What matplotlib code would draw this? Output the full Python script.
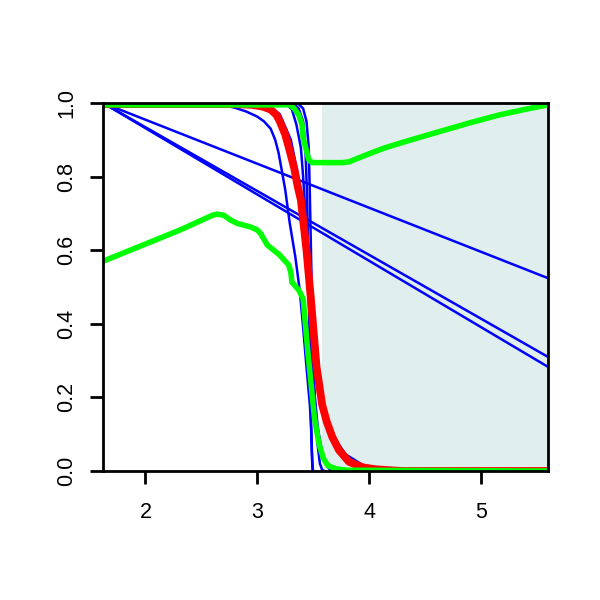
import matplotlib
matplotlib.use("Agg")
import matplotlib.pyplot as plt

# ---- data ----
xlim = (1.62, 5.60)
shade_x = (3.58, 5.60)
xticks = [2, 3, 4, 5]
yticks = [0.0, 0.2, 0.4, 0.6, 0.8, 1.0]
ytick_labels = ["0.0", "0.2", "0.4", "0.6", "0.8", "1.0"]

# straight blue lines
line1_x = [1.62, 5.60]; line1_y = [1.0, 0.524]
line2_x = [1.62, 5.60]; line2_y = [1.0, 0.310]
line3_x = [1.62, 5.60]; line3_y = [1.0, 0.283]

# broad blue curve
blue_broad_x = [1.62, 2.50, 2.60, 2.70, 2.80, 2.90, 3.00, 3.06, 3.12, 3.16, 3.19, 3.22, 3.25, 3.29, 3.34, 3.38,
                3.41, 3.44, 3.47, 3.485, 3.49, 3.495]
blue_broad_y = [1.0, 1.0, 0.998, 0.994, 0.987, 0.977, 0.963, 0.95, 0.93, 0.90, 0.865, 0.815, 0.764, 0.674, 0.582, 0.49,
                0.39, 0.283, 0.18, 0.10, 0.03, 0.0]

# steep blue curves
blue_a_x = [1.62, 3.32, 3.37, 3.41, 3.43, 3.445, 3.455, 3.465, 3.475, 3.485, 3.495, 3.50]
blue_a_y = [1.0, 1.0, 0.985, 0.95, 0.88, 0.75, 0.60, 0.40, 0.20, 0.07, 0.01, 0.0]

blue_b_x = [1.62, 3.36, 3.41, 3.44, 3.46, 3.47, 3.48, 3.49, 3.50, 3.52, 3.54, 3.56, 3.58, 3.60]
blue_b_y = [1.0, 1.0, 0.985, 0.95, 0.88, 0.75, 0.60, 0.45, 0.30, 0.15, 0.07, 0.02, 0.003, 0.0]

blue_c_x = [1.62, 3.00, 3.10, 3.20, 3.30, 3.38, 3.44, 3.49, 3.54, 3.59, 3.64, 3.70, 3.79, 3.94, 4.08, 4.30, 5.60]
blue_c_y = [1.0, 1.0, 0.99, 0.97, 0.90, 0.78, 0.62, 0.47, 0.30, 0.19, 0.13, 0.085, 0.045, 0.017, 0.007, 0.001, 0.0]

blue_d_x = [1.62, 3.20, 3.27, 3.31, 3.35, 3.39, 3.41, 3.43, 3.45, 3.47, 3.50, 3.54, 3.58, 3.62, 3.66, 5.60]
blue_d_y = [1.0, 1.0, 0.995, 0.982, 0.941, 0.878, 0.80, 0.70, 0.55, 0.40, 0.25, 0.12, 0.05, 0.015, 0.0, 0.0]

# red thick curve
red_x = [1.62, 2.80, 2.95, 3.05, 3.12, 3.17, 3.20, 3.25, 3.29, 3.33, 3.36, 3.39, 3.44, 3.48, 3.53, 3.58, 3.62, 3.67,
         3.73, 3.82, 3.94, 4.05, 4.14, 4.30, 5.60]
red_y = [0.997, 0.997, 0.995, 0.99, 0.982, 0.968, 0.951, 0.914, 0.87, 0.823, 0.775, 0.736, 0.60, 0.465, 0.283, 0.18,
         0.135, 0.093, 0.057, 0.025, 0.010, 0.005, 0.003, 0.0, 0.0]

# green upper curve
green_up_x = [1.62, 3.29, 3.33, 3.37, 3.40, 3.41, 3.44, 3.46, 3.49, 3.76, 3.82, 3.90, 4.00, 4.13, 4.30, 4.58, 4.90,
              5.17, 5.40, 5.60]
green_up_y = [0.995, 0.995, 0.985, 0.968, 0.941, 0.905, 0.87, 0.846, 0.838, 0.838, 0.840, 0.850, 0.862, 0.877, 0.893,
              0.918, 0.946, 0.968, 0.983, 0.995]

# green lower curve
green_lo_x = [1.62, 2.31, 2.60, 2.64, 2.70, 2.76, 2.82, 2.94, 3.00, 3.03, 3.09, 3.20, 3.28, 3.30, 3.31, 3.37, 3.41,
              3.45, 3.48, 3.51, 3.55, 3.59, 3.63, 3.70, 3.80, 5.60]
green_lo_y = [0.57, 0.655, 0.695, 0.698, 0.695, 0.682, 0.673, 0.663, 0.655, 0.645, 0.614, 0.587, 0.56, 0.54, 0.513,
              0.492, 0.468, 0.33, 0.239, 0.147, 0.076, 0.035, 0.015, 0.006, 0.002, 0.0]

BLUE = "#0000FF"
RED = "#FF0000"
GREEN = "#00FF00"
SHADE = "#E0EEEE"

plt.rcParams['font.family'] = ['Liberation Sans', 'DejaVu Sans']

fig = plt.figure(figsize=(6, 6), dpi=100)
ax = fig.add_axes([103/600, 1 - 471/600, 445/600, 368/600])

ax.axvspan(shade_x[0], shade_x[1], color=SHADE, lw=0, zorder=0)

blue_lw = 1.8
for xs, ys in [(line1_x, line1_y), (line2_x, line2_y), (line3_x, line3_y),
               (blue_broad_x, blue_broad_y), (blue_a_x, blue_a_y), (blue_b_x, blue_b_y),
               (blue_c_x, blue_c_y), (blue_d_x, blue_d_y)]:
    ax.plot(xs, ys, color=BLUE, lw=blue_lw, zorder=2, solid_joinstyle='round')

ax.plot(red_x, red_y, color=RED, lw=5.6, zorder=3, solid_joinstyle='round')
ax.plot(green_up_x, green_up_y, color=GREEN, lw=4.0, zorder=4, solid_joinstyle='round')
ax.plot(green_lo_x, green_lo_y, color=GREEN, lw=4.0, zorder=4, solid_joinstyle='round')

ax.set_xlim(*xlim)
ax.set_ylim(0, 1)
ax.set_xticks(xticks)
ax.set_xticklabels([str(t) for t in xticks])
ax.set_yticks(yticks)
ax.set_yticklabels(ytick_labels, rotation=90, va='center')

for s in ax.spines.values():
    s.set_linewidth(2.0)
    s.set_color('black')
    s.set_zorder(5)

ax.tick_params(axis='both', direction='out', length=9.5, width=2.0, labelsize=15.5, colors='black')
ax.tick_params(axis='x', pad=13)
ax.tick_params(axis='y', pad=9)

fig.savefig("out.png", dpi=100)
